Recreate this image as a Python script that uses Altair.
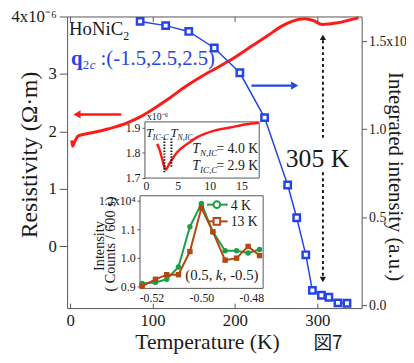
import altair as alt
import pandas as pd

# ---------------- data ----------------
# main panel: resistivity (x1e-6 Ohm m) vs temperature
T_rho = [2, 3, 5, 10, 25, 46, 70, 86, 100, 120, 140, 160, 180, 200, 220, 240, 258, 270, 285, 295, 306, 315, 325, 337, 350]
rho = [1.84, 1.74, 1.80, 1.92, 1.97, 2.04, 2.15, 2.26, 2.38, 2.57, 2.78, 2.96, 3.12, 3.29, 3.48, 3.67, 3.84, 3.92, 3.96, 3.93, 3.86, 3.87, 3.89, 3.93, 3.98]
# main panel: integrated intensity (a.u.) of q2c vs temperature
T_int = [85, 116, 144, 175, 206, 236, 264, 275, 286, 294, 305, 314, 325, 336]
intensity = [1.613, 1.589, 1.556, 1.462, 1.321, 1.066, 0.683, 0.497, 0.286, 0.084, 0.056, 0.045, 0.013, 0.011]

# upper inset: low-temperature resistivity
T_low = [1.75, 2.1, 2.6, 2.9, 3.1, 3.7, 4.9, 6.5, 8.0, 10.6, 13.2, 15.8, 17.7]
rho_low = [1.836, 1.816, 1.771, 1.744, 1.734, 1.758, 1.803, 1.836, 1.862, 1.888, 1.901, 1.914, 1.920]
T_transitions = [2.9, 4.0]          # T_IC-C, T_N,IC

# lower inset: k-scan intensity (x1e4 counts / 600 s)
k_vals = [-0.5237, -0.5184, -0.5139, -0.5092, -0.5046, -0.5000, -0.4954, -0.4905, -0.4859, -0.4813, -0.4767]
int_4K = [0.910, 0.914, 0.925, 0.968, 1.109, 1.190, 1.091, 1.025, 1.025, 1.017, 1.029]
int_13K = [0.901, 0.925, 0.941, 0.941, 1.022, 1.175, 1.091, 0.992, 0.999, 1.040, 1.008]

# ticks
T_TICKS = [0, 100, 200, 300]
RHO_TICKS = [0, 1, 2, 3, 4]
I_TICKS = [0.0, 0.5, 1.0, 1.5]
LOW_T_TICKS = [0, 5, 10, 15]
LOW_RHO_TICKS = [1.7, 1.8, 1.9]
K_TICKS = [-0.52, -0.50, -0.48]
KI_TICKS = [0.9, 1.0, 1.1, 1.2]

# annotation anchors (data coordinates)
T_305 = 306.8
RED_ARROW = {"T": [62, 11], "rho": [2.293, 2.293]}
RED_HEAD = {"T": [8.4], "rho": [2.293]}
BLUE_ARROW = {"T": [220, 268], "I": [1.248, 1.248]}
BLUE_HEAD = {"T": [272.5], "I": [1.248]}

# ---------------- layout / style ----------------
SERIF = "Liberation Serif"
CJK = "Noto Sans CJK JP"
INK = "#1a1a1a"
RED = "#ff1a1a"
BLUE = "#2444e6"
GREEN = "#1e9e46"
BROWN = "#b5460f"
FRAME = "#555555"

OX, OY = 68, 14          # page position of plot origin
W, H = 299, 296

T_DOM = [-3.6, 353.8]
RHO_DOM = [-1.08, 4.0]
I_DOM = [-0.0168, 1.641]
IN1_X, IN1_XR = [-0.155, 17.78], [147 - OX, 263 - OX]
IN1_Y, IN1_YR = [1.7, 1.9235], [178 - OY, 121 - OY]
IN2_X, IN2_XR = [-0.52458, -0.47527], [142 - OX, 267 - OX]
IN2_Y, IN2_YR = [0.8931, 1.2172], [290 - OY, 196 - OY]


def S(domain, rng=None):
    if rng is None:
        return alt.Scale(domain=domain, nice=False, zero=False)
    return alt.Scale(domain=domain, range=rng, nice=False, zero=False)


AX = dict(labelFont=SERIF, titleFont=SERIF, labelColor=INK, titleColor=INK,
          titleFontWeight="normal", domain=False, grid=False, tickColor=FRAME)

ONE = pd.DataFrame({"a": [0]})


def label(text, px, py, size, color=INK, font=SERIF, style=None, weight=None,
          align="left", angle=None):
    kw = dict(text=text, fontSize=size, color=color, font=font, align=align,
              baseline="alphabetic")
    if style:
        kw["fontStyle"] = style
    if weight:
        kw["fontWeight"] = weight
    if angle is not None:
        kw["angle"] = angle
    return alt.Chart(ONE).mark_text(**kw).encode(x=alt.value(px - OX), y=alt.value(py - OY))


layers = []

# ---- main resistivity curve with left + bottom axes ----
df_rho = pd.DataFrame({"T": T_rho, "rho": rho})
layers.append(
    alt.Chart(df_rho).mark_line(color=RED, strokeWidth=3, interpolate="monotone").encode(
        x=alt.X("T:Q", scale=S(T_DOM), axis=alt.Axis(
            orient="bottom", values=T_TICKS, tickSize=0, labelPadding=5, labelFontSize=17,
            title="Temperature (K)", titleFontSize=22, titleX=142, titleY=41,
            titleBaseline="alphabetic", titleAlign="center", **AX)),
        y=alt.Y("rho:Q", scale=S(RHO_DOM), axis=alt.Axis(
            orient="left", values=RHO_TICKS,
            labelExpr="datum.value == 4 ? '4x10⁻⁶' : datum.label",
            tickSize=8, labelPadding=3, labelFontSize=17,
            title="Resistivity (Ω·m)", titleFontSize=24, titleAngle=270,
            titleX=-31, titleY=140, titleBaseline="alphabetic", titleAlign="center", **AX)),
    )
)

# inward tick marks top and bottom
df_ticks = pd.DataFrame({"T": T_TICKS})
for orient in ["top", "bottom"]:
    layers.append(
        alt.Chart(df_ticks).mark_point(opacity=0).encode(
            x=alt.X("T:Q", scale=S(T_DOM), axis=alt.Axis(
                orient=orient, offset=-5, tickSize=5, labels=False, values=T_TICKS,
                title="", domain=False, grid=False, tickColor=FRAME)),
            y=alt.value(0),
        )
    )

# ---- main integrated intensity with right axis ----
df_int = pd.DataFrame({"T": T_int, "I": intensity})
layers.append(
    alt.Chart(df_int).mark_line(color=BLUE, strokeWidth=1.5).encode(
        x=alt.X("T:Q", scale=S(T_DOM), axis=None),
        y=alt.Y("I:Q", scale=S(I_DOM), axis=alt.Axis(
            orient="right", values=I_TICKS,
            labelExpr="datum.value == 1.5 ? '1.5x10' : format(datum.value, '.1f')",
            tickSize=5, labelPadding=2, labelFontSize=14,
            title="Integrated intensity (a.u.)", titleFontSize=21, titleAngle=90,
            titleX=27, titleY=162, titleBaseline="alphabetic", titleAlign="center", **AX)),
    )
)
layers.append(
    alt.Chart(df_int).mark_point(shape="square", filled=True, fill="white", stroke=BLUE,
                                 strokeWidth=2.5, size=42, opacity=1).encode(
        x=alt.X("T:Q", scale=S(T_DOM), axis=None),
        y=alt.Y("I:Q", scale=S(I_DOM), axis=None),
    )
)

# ---- arrows ----
layers.append(
    alt.Chart(pd.DataFrame(RED_ARROW)).mark_line(color=RED, strokeWidth=2.5).encode(
        x=alt.X("T:Q", scale=S(T_DOM), axis=None),
        y=alt.Y("rho:Q", scale=S(RHO_DOM), axis=None)))
layers.append(
    alt.Chart(pd.DataFrame(RED_HEAD)).mark_point(shape="triangle-left", filled=True, color=RED,
                                                 size=70, opacity=1).encode(
        x=alt.X("T:Q", scale=S(T_DOM), axis=None),
        y=alt.Y("rho:Q", scale=S(RHO_DOM), axis=None)))
layers.append(
    alt.Chart(pd.DataFrame(BLUE_ARROW)).mark_line(color=BLUE, strokeWidth=2.5).encode(
        x=alt.X("T:Q", scale=S(T_DOM), axis=None),
        y=alt.Y("I:Q", scale=S(I_DOM), axis=None)))
layers.append(
    alt.Chart(pd.DataFrame(BLUE_HEAD)).mark_point(shape="triangle-right", filled=True, color=BLUE,
                                                  size=70, opacity=1).encode(
        x=alt.X("T:Q", scale=S(T_DOM), axis=None),
        y=alt.Y("I:Q", scale=S(I_DOM), axis=None)))

# dashed 305 K arrow (broken around the label)
df_dash = pd.DataFrame({"T": [T_305, T_305], "y1": [3.585, 1.286], "y2": [1.835, -0.53]})
layers.append(
    alt.Chart(df_dash).mark_rule(color=INK, strokeWidth=2, strokeDash=[3, 3]).encode(
        x=alt.X("T:Q", scale=S(T_DOM), axis=None),
        y=alt.Y("y1:Q", scale=S(RHO_DOM), axis=None),
        y2="y2:Q"))
df_dhead = pd.DataFrame({"T": [T_305, T_305], "rho": [3.636, -0.583],
                         "shape": ["triangle-up", "triangle-down"]})
for shp in ["triangle-up", "triangle-down"]:
    layers.append(
        alt.Chart(df_dhead[df_dhead["shape"] == shp]).mark_point(
            shape=shp, filled=True, color=INK, size=40, opacity=1).encode(
            x=alt.X("T:Q", scale=S(T_DOM), axis=None),
            y=alt.Y("rho:Q", scale=S(RHO_DOM), axis=None)))

layers.append(label("305 K", 290, 167, 26))

# ---- header texts ----
layers.append(label("HoNiC", 70, 33, 19))
layers.append(label("2", 125, 38, 12))
layers.append(label("q", 72, 63, 21, color=BLUE, weight="bold"))
layers.append(label("2", 84, 67, 13, color=BLUE))
layers.append(label("c", 91, 67, 13, color=BLUE, style="italic"))
layers.append(label(":(-1.5,2.5,2.5)", 218, 63, 21, color=BLUE, align="right"))

# ---- upper inset ----
df_f1 = pd.DataFrame({"x0": [IN1_X[0]], "x1": [IN1_X[1]], "y0": [IN1_Y[0]], "y1": [IN1_Y[1]]})
layers.append(
    alt.Chart(df_f1).mark_rect(fill="white", stroke=FRAME, strokeWidth=1).encode(
        x=alt.X("x0:Q", scale=S(IN1_X, IN1_XR), axis=alt.Axis(
            orient="bottom", offset=(IN1_YR[0] - H), values=LOW_T_TICKS, tickSize=0,
            labelPadding=3, labelFontSize=12, title="", **AX)),
        x2="x1:Q",
        y=alt.Y("y0:Q", scale=S(IN1_Y, IN1_YR), axis=alt.Axis(
            orient="left", offset=-IN1_XR[0], values=LOW_RHO_TICKS, format=".1f",
            tickSize=3, labelPadding=2, labelFontSize=12, title="", **AX)),
        y2="y1:Q"))
df_low = pd.DataFrame({"T": T_low, "rho": rho_low})
layers.append(
    alt.Chart(df_low).mark_line(color=RED, strokeWidth=2.5, interpolate="monotone").encode(
        x=alt.X("T:Q", scale=S(IN1_X, IN1_XR), axis=None),
        y=alt.Y("rho:Q", scale=S(IN1_Y, IN1_YR), axis=None)))
df_tr = pd.DataFrame({"T": T_transitions, "y1": [1.857, 1.857], "y2": [1.7235, 1.739]})
layers.append(
    alt.Chart(df_tr).mark_rule(color=INK, strokeWidth=2, strokeDash=[1.5, 1.5]).encode(
        x=alt.X("T:Q", scale=S(IN1_X, IN1_XR), axis=None),
        y=alt.Y("y1:Q", scale=S(IN1_Y, IN1_YR), axis=None),
        y2="y2:Q"))
layers.append(label("x10⁻⁶", 149, 119, 10))
layers.append(label("T", 148, 136, 13, style="italic"))
layers.append(label("IC-C", 155, 139, 8, style="italic"))
layers.append(label("T", 173, 136, 13, style="italic"))
layers.append(label("N,IC", 180, 139, 8, style="italic"))
layers.append(label("T", 195, 153, 14, style="italic"))
layers.append(label("N,IC", 203, 156, 9, style="italic"))
layers.append(label("= 4.0 K", 262, 153, 14, align="right"))
layers.append(label("T", 195, 170, 14, style="italic"))
layers.append(label("IC,C", 203, 173, 9, style="italic"))
layers.append(label("= 2.9 K", 262, 170, 14, align="right"))

# ---- lower inset ----
df_f2 = pd.DataFrame({"x0": [IN2_X[0]], "x1": [IN2_X[1]], "y0": [IN2_Y[0]], "y1": [IN2_Y[1]]})
layers.append(
    alt.Chart(df_f2).mark_rect(fill="white", stroke=FRAME, strokeWidth=1).encode(
        x=alt.X("x0:Q", scale=S(IN2_X, IN2_XR), axis=alt.Axis(
            orient="bottom", offset=(IN2_YR[0] - H), values=K_TICKS, tickSize=0,
            labelExpr="replace(format(datum.value, '.2f'), '−', '-')",
            labelPadding=4, labelFontSize=12, title="", **AX)),
        x2="x1:Q",
        y=alt.Y("y0:Q", scale=S(IN2_Y, IN2_YR), axis=alt.Axis(
            orient="left", offset=-IN2_XR[0], values=KI_TICKS,
            labelExpr="datum.value == 1.2 ? '1.2x10⁴' : format(datum.value, '.1f')",
            tickSize=3, labelPadding=2, labelFontSize=12, title="", **AX)),
        y2="y1:Q"))
df_k = pd.DataFrame({"k": k_vals, "i4": int_4K, "i13": int_13K})
for col, colr, shp in [("i4", GREEN, "circle"), ("i13", BROWN, "square")]:
    layers.append(
        alt.Chart(df_k).mark_line(color=colr, strokeWidth=2).encode(
            x=alt.X("k:Q", scale=S(IN2_X, IN2_XR), axis=None),
            y=alt.Y(f"{col}:Q", scale=S(IN2_Y, IN2_YR), axis=None)))
    layers.append(
        alt.Chart(df_k).mark_point(shape=shp, filled=True, color=colr, size=30, opacity=1).encode(
            x=alt.X("k:Q", scale=S(IN2_X, IN2_XR), axis=None),
            y=alt.Y(f"{col}:Q", scale=S(IN2_Y, IN2_YR), axis=None)))

# legend of lower inset
for py, colr, shp, txt in [(205, GREEN, "circle", "4 K"), (222, BROWN, "square", "13 K")]:
    layers.append(alt.Chart(ONE).mark_rule(color=colr, strokeWidth=2).encode(
        x=alt.value(210 - OX), x2=alt.value(231 - OX), y=alt.value(py - OY)))
    layers.append(alt.Chart(ONE).mark_point(shape=shp, filled=True, fill="white", stroke=colr,
                                            strokeWidth=2, size=45, opacity=1).encode(
        x=alt.value(220 - OX), y=alt.value(py - OY)))
    layers.append(label(txt, 234, py + 5, 14))

layers.append(label("(0.5, ", 188, 281, 15))
layers.append(label("k", 219, 281, 15, style="italic"))
layers.append(label(", -0.5)", 226, 281, 15))
layers.append(label("Intensity", 105, 247, 14.5, align="center", angle=270))
layers.append(label("( Counts / 600 s)", 117, 245, 14.5, align="center", angle=270))

# figure number
layers.append(label("図7", 318, 352, 19, font=CJK))

chart = alt.layer(*layers).resolve_scale(x="independent", y="independent").properties(
    width=W, height=H,
    autosize=alt.AutoSizeParams(type="none"),
    padding={"left": OX - 8, "top": OY - 8, "right": 45, "bottom": 45},
    background="white",
).configure_view(stroke=FRAME, strokeWidth=1)

chart.save("out.html", embed_options={"renderer": "svg", "actions": False})
